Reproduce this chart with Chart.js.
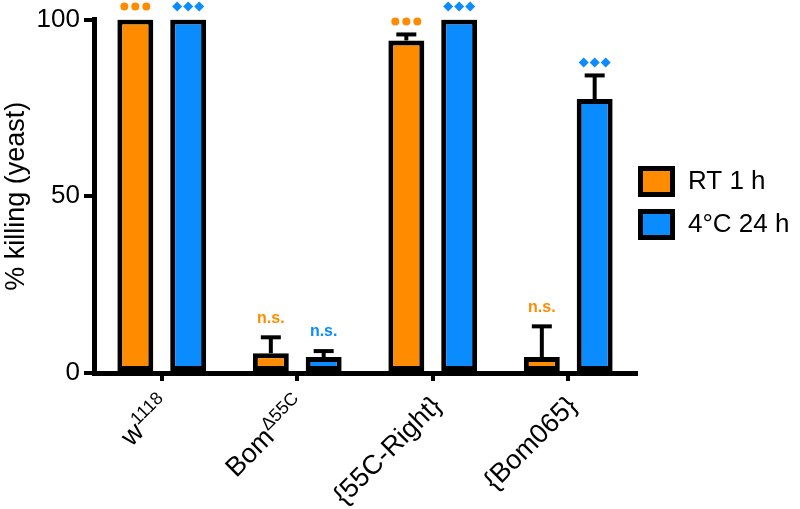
<!DOCTYPE html>
<html>
<head>
<meta charset="utf-8">
<script src="https://cdn.jsdelivr.net/npm/chart.js@4.4.1/dist/chart.umd.min.js"></script>
<style>
  html, body { margin: 0; padding: 0; background: #fff; }
  #wrap { width: 800px; height: 509px; }
</style>
</head>
<body>
<div id="wrap"><canvas id="c" width="800" height="509"></canvas></div>
<script>
// ---- data ----
const categories = ['w1118', 'BomΔ55C', '{55C-Right}', '{Bom065}'];
const labelBase = ['w', 'Bom', '{55C-Right}', '{Bom065}'];
const labelSup = ['1118', 'Δ55C', '', ''];
const seriesNames = ['RT 1 h', '4°C 24 h'];
const rtValues = [100, 5.6, 94.1, 4.5];
const rtErrors = [0, 4.5, 1.7, 8.7];
const coldValues = [100, 4.5, 100, 77.5];
const coldErrors = [0, 1.7, 0, 6.7];
const rtSig = ['***', 'n.s.', '***', 'n.s.'];
const coldSig = ['***', 'n.s.', '***', '***'];
const yTicks = [0, 50, 100];

const ORANGE = '#FF8C00';
const BLUE = '#0A8CFF';
const FONT = 'Liberation Sans, Arial, sans-serif';

const overlay = {
  id: 'overlay',
  afterDatasetsDraw(chart) {
    const ctx = chart.ctx;
    const y = chart.scales.y;
    const sets = [
      { vals: rtValues, errs: rtErrors, sig: rtSig, color: ORANGE, shape: 'dot' },
      { vals: coldValues, errs: coldErrors, sig: coldSig, color: BLUE, shape: 'diamond' }
    ];
    sets.forEach((s, di) => {
      const meta = chart.getDatasetMeta(di);
      meta.data.forEach((bar, i) => {
        const cx = bar.x;
        const yTop = y.getPixelForValue(s.vals[i]);
        const yErr = y.getPixelForValue(s.vals[i] + s.errs[i]);
        ctx.save();
        if (s.errs[i] > 0) {
          ctx.strokeStyle = '#000';
          ctx.lineWidth = 4;
          ctx.beginPath();
          ctx.moveTo(cx, yTop);
          ctx.lineTo(cx, yErr);
          ctx.stroke();
          ctx.beginPath();
          ctx.moveTo(cx - 10, yErr);
          ctx.lineTo(cx + 10, yErr);
          ctx.stroke();
        }
        const top = Math.min(yTop, yErr);
        ctx.fillStyle = s.color;
        if (s.sig[i] === '***') {
          const my = top - 13;
          for (let k = -1; k <= 1; k++) {
            const px = cx + k * 11;
            ctx.beginPath();
            if (s.shape === 'dot') {
              ctx.arc(px, my, 4, 0, Math.PI * 2);
            } else {
              ctx.moveTo(px, my - 5);
              ctx.lineTo(px + 5, my);
              ctx.lineTo(px, my + 5);
              ctx.lineTo(px - 5, my);
              ctx.closePath();
            }
            ctx.fill();
          }
        } else {
          ctx.font = 'bold 16px ' + FONT;
          ctx.textAlign = 'center';
          ctx.textBaseline = 'middle';
          ctx.fillText(s.sig[i], cx, top - 19);
        }
        ctx.restore();
      });
    });
  },
  afterDraw(chart) {
    const ctx = chart.ctx;
    const x = chart.scales.x;
    // x labels, rotated
    categories.forEach((c, i) => {
      const px = x.getPixelForValue(i);
      ctx.save();
      ctx.translate(px + 3, 400);
      ctx.rotate(-Math.PI / 4);
      ctx.fillStyle = '#000';
      ctx.textBaseline = 'alphabetic';
      ctx.textAlign = 'left';
      ctx.font = '27px ' + FONT;
      const wb = ctx.measureText(labelBase[i]).width;
      ctx.font = '18px ' + FONT;
      const ws = labelSup[i] ? ctx.measureText(labelSup[i]).width : 0;
      const total = wb + ws;
      ctx.font = '27px ' + FONT;
      ctx.fillText(labelBase[i], -total, 10);
      if (labelSup[i]) {
        ctx.font = '18px ' + FONT;
        ctx.fillText(labelSup[i], -total + wb, -1);
      }
      ctx.restore();
    });
    // legend
    const colors = [ORANGE, BLUE];
    seriesNames.forEach((name, i) => {
      const bx = 638, by = 166 + i * 43;
      ctx.save();
      ctx.fillStyle = '#000';
      ctx.fillRect(bx, by, 37, 31);
      ctx.fillStyle = colors[i];
      ctx.fillRect(bx + 5, by + 5, 27, 21);
      ctx.fillStyle = '#000';
      ctx.font = '26px ' + FONT;
      ctx.textAlign = 'left';
      ctx.textBaseline = 'middle';
      ctx.fillText(name, 688, by + 16);
      ctx.restore();
    });
  }
};

new Chart(document.getElementById('c'), {
  type: 'bar',
  data: {
    labels: categories,
    datasets: [
      { label: seriesNames[0], data: rtValues, backgroundColor: ORANGE, borderColor: '#000', borderWidth: 5, borderSkipped: false },
      { label: seriesNames[1], data: coldValues, backgroundColor: BLUE, borderColor: '#000', borderWidth: 5, borderSkipped: false }
    ]
  },
  options: {
    responsive: false,
    animation: false,
    devicePixelRatio: 1,
    layout: { padding: { top: 18, right: 164, left: 0, bottom: 0 } },
    datasets: { bar: { categoryPercentage: 0.78, barPercentage: 0.68 } },
    plugins: { legend: { display: false }, tooltip: { enabled: false } },
    scales: {
      x: {
        offset: true,
        grid: { display: true, drawOnChartArea: false, offset: false, drawTicks: true, tickLength: 8, lineWidth: 4, color: '#000' },
        border: { display: true, width: 5, color: '#000' },
        ticks: { display: false },
        afterFit(scale) { scale.height = 136; }
      },
      y: {
        min: 0, max: 100,
        afterBuildTicks(scale) { scale.ticks = yTicks.map(v => ({ value: v })); },
        grid: { display: true, drawOnChartArea: false, drawTicks: true, tickLength: 10, lineWidth: 4, color: '#000' },
        border: { display: true, width: 5, color: '#000' },
        ticks: { color: '#000', padding: 4, font: { family: FONT, size: 26 } },
        title: { display: true, text: '% killing (yeast)', color: '#000', padding: 0, font: { family: FONT, size: 27 } },
        afterFit(scale) { scale.width = 94; }
      }
    }
  },
  plugins: [overlay]
});
</script>
</body>
</html>
